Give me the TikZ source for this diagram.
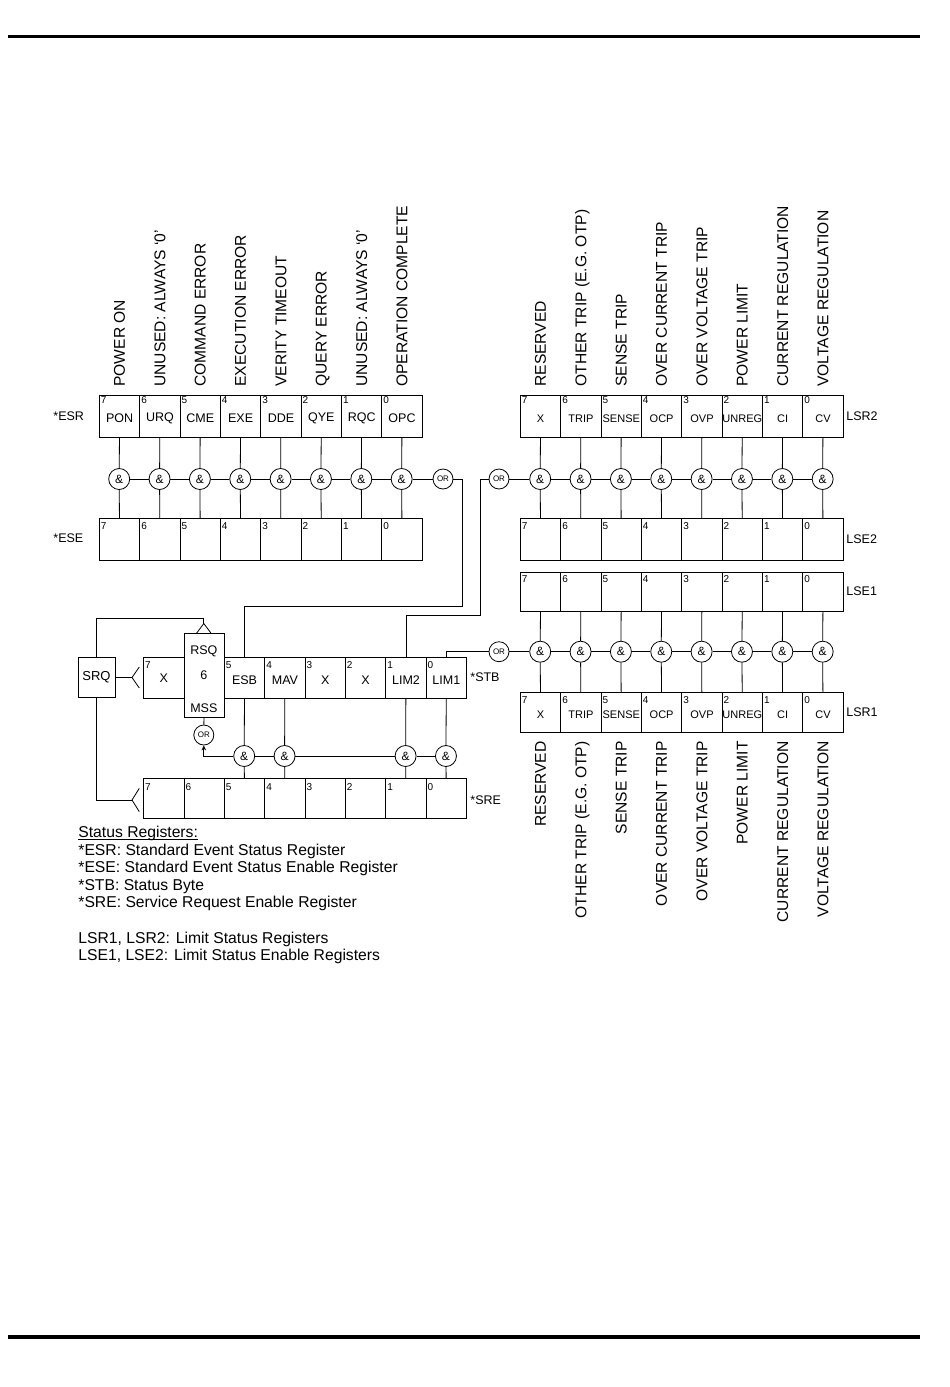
\documentclass[tikz,border=0pt]{standalone}
\usepackage{fontspec}
\setmainfont{Liberation Sans}
\usetikzlibrary{arrows.meta}
\begin{document}
\begin{tikzpicture}[x=1pt,y=-1pt,line width=0.8pt,
  cell/.style={draw,minimum width=40.35pt,inner sep=0pt,anchor=north west},
  bitnum/.style={font=\fontsize{10}{12}\selectfont,inner sep=0pt,text height=7.3pt,text depth=0pt,anchor=north west},
  celltxt/.style={font=\fontsize{12.5}{14}\selectfont,inner sep=0pt},
  lsrtxt/.style={font=\fontsize{11}{13}\selectfont,inner sep=0pt},
  gate/.style={draw,circle,minimum size=21pt,inner sep=0pt,font=\fontsize{12}{14}\selectfont},
  orgate/.style={draw,circle,minimum size=20pt,inner sep=0pt,font=\fontsize{8}{9}\selectfont},
  vlabup/.style={rotate=90,inner sep=0pt,anchor=base west,font=\fontsize{15.6}{17}\selectfont},
  vlabdn/.style={rotate=90,inner sep=0pt,anchor=base east,font=\fontsize{15.6}{17}\selectfont},
  reglab/.style={font=\fontsize{12.5}{14}\selectfont,inner sep=0pt,anchor=west},
  legend/.style={font=\fontsize{15.7}{17}\selectfont,inner sep=0pt,anchor=base west},
  hrule/.style={line width=3.5pt}]
\useasboundingbox (0,0) rectangle (950,1387);

% page rules
\coordinate (rt1) at (8,36.7); \coordinate (rt2) at (920,36.7);
\coordinate (rb1) at (8,1337); \coordinate (rb2) at (920,1337);
\draw[hrule] (rt1) -- (rt2);
\draw[hrule] (rb1) -- (rb2);

% ---------------- ESR / ESE ----------------
\foreach \t [count=\k from 0] in {PON,URQ,CME,EXE,DDE,QYE,RQC,OPC}{
  \pgfmathtruncatemacro\b{7-\k}
  \node[cell,minimum height=42pt] (esr\b) at ({99+\k*40.35},395) {};
  \node[bitnum] (esrn\b) at ([xshift=1.5pt,yshift=-1pt]esr\b.north west) {\b};
  \node[celltxt] (esrt\b) at ([yshift=-2pt]esr\b.center) {\t};
  \node[gate] (ge\b) at ({119.2+\k*40.35},479) {\&};
  \node[cell,minimum height=42pt] (ese\b) at ({99+\k*40.35},518.3) {};
  \node[bitnum] (esen\b) at ([xshift=1.5pt,yshift=-3pt]ese\b.north west) {\b};
}
\foreach \t [count=\k from 0] in {POWER ON,UNUSED: ALWAYS ‘0’,COMMAND ERROR,EXECUTION ERROR,VERITY TIMEOUT,QUERY ERROR,UNUSED: ALWAYS ‘0’,OPERATION COMPLETE}{
  \node[vlabup] (esrl\k) at ({124.9+\k*40.35},387) {\t};
}
\foreach \b in {0,...,7}{
  \draw (esr\b) -- (ge\b);
  \draw (ge\b) -- (ese\b);
}
\foreach \b in {1,...,7}{
  \pgfmathtruncatemacro\c{\b-1}
  \draw (ge\b) -- (ge\c);
}
\node[orgate] (orE) at (443,479) {OR};
\draw (ge0) -- (orE);
\node[reglab] (lbesr) at (53,416.5) {*ESR};
\node[reglab] (lbese) at (53,538.5) {*ESE};

% ---------------- LSR2 / LSE2 / LSE1 / LSR1 ----------------
\foreach \t [count=\k from 0] in {X,TRIP,SENSE,OCP,OVP,UNREG,CI,CV}{
  \pgfmathtruncatemacro\b{7-\k}
  \node[cell,minimum height=42pt] (lsrb\b) at ({520+\k*40.35},395) {};
  \node[bitnum] (lsrbn\b) at ([xshift=1.5pt,yshift=-1pt]lsrb\b.north west) {\b};
  \node[lsrtxt] (lsrbt\b) at ([yshift=-2pt]lsrb\b.center) {\t};
  \node[gate] (gl2\b) at ({540.2+\k*40.35},479) {\&};
  \node[cell,minimum height=42pt] (lseb\b) at ({520+\k*40.35},518.3) {};
  \node[bitnum] (lsebn\b) at ([xshift=1.5pt,yshift=-3pt]lseb\b.north west) {\b};
  \node[cell,minimum height=39.5pt] (lsea\b) at ({520+\k*40.35},571.7) {};
  \node[bitnum] (lsean\b) at ([xshift=1.5pt,yshift=-3pt]lsea\b.north west) {\b};
  \node[gate] (gl1\b) at ({540.2+\k*40.35},651.7) {\&};
  \node[cell,minimum height=39.5pt] (lsra\b) at ({520+\k*40.35},692.3) {};
  \node[bitnum] (lsran\b) at ([xshift=1.5pt,yshift=-3pt]lsra\b.north west) {\b};
  \node[lsrtxt] (lsrat\b) at ([yshift=-2pt]lsra\b.center) {\t};
}
\foreach \t [count=\k from 0] in {RESERVED,OTHER TRIP (E.G. OTP),SENSE TRIP,OVER CURRENT TRIP,OVER VOLTAGE TRIP,POWER LIMIT,CURRENT REGULATION,VOLTAGE REGULATION}{
  \node[vlabup] (lsrbl\k) at ({545.9+\k*40.35},387) {\t};
  \node[vlabdn] (lsral\k) at ({545.9+\k*40.35},741) {\t};
}
\foreach \b in {0,...,7}{
  \draw (lsrb\b) -- (gl2\b);
  \draw (gl2\b) -- (lseb\b);
  \draw (lsea\b) -- (gl1\b);
  \draw (gl1\b) -- (lsra\b);
}
\foreach \b in {1,...,7}{
  \pgfmathtruncatemacro\c{\b-1}
  \draw (gl2\b) -- (gl2\c);
  \draw (gl1\b) -- (gl1\c);
}
\node[orgate] (orL2) at (499,479) {OR};
\node[orgate] (orL1) at (499,651.7) {OR};
\draw (orL2) -- (gl27);
\draw (orL1) -- (gl17);
\node[reglab] (lblsr2) at (846,416.5) {LSR2};
\node[reglab] (lblse2) at (846,539) {LSE2};
\node[reglab] (lblse1) at (846,591.5) {LSE1};
\node[reglab] (lblsr1) at (846,712.5) {LSR1};

% ---------------- STB ----------------
\node[cell,minimum height=40.4pt] (stb7) at (143.3,657.3) {};
\node[bitnum] (stbn7) at ([xshift=1.5pt,yshift=-3pt]stb7.north west) {7};
\node[celltxt] (stbt7) at (stb7.center) {X};
\foreach \t/\b/\k in {ESB/5/2,MAV/4/3,X/3/4,X/2/5,LIM2/1/6,LIM1/0/7}{
  \node[cell,minimum height=40.4pt] (stb\b) at ({143.3+\k*40.35},657.3) {};
  \node[bitnum] (stbn\b) at ([xshift=1.5pt,yshift=-3pt]stb\b.north west) {\b};
  \node[celltxt] (stbt\b) at ([yshift=-2pt]stb\b.center) {\t};
}
\node[cell,minimum height=83.4pt] (stb6) at (183.65,633.3) {};
\node[celltxt] (rsq) at (203.8,651) {RSQ};
\node[celltxt] (stbt6) at (203.8,675) {6};
\node[celltxt] (mss) at (203.8,708) {MSS};
\node[reglab] (lbstb) at (470,677.5) {*STB};

% ---------------- SRE ----------------
\foreach \k in {0,...,7}{
  \pgfmathtruncatemacro\b{7-\k}
  \node[cell,minimum height=40pt] (sre\b) at ({143.3+\k*40.35},778.3) {};
  \node[bitnum] (sren\b) at ([xshift=1.5pt,yshift=-4pt]sre\b.north west) {\b};
}
\node[reglab] (lbsre) at (470,800) {*SRE};

\foreach \b/\k in {5/2,4/3,1/6,0/7}{
  \node[gate] (gs\b) at ({163.5+\k*40.35},756) {\&};
  \draw (stb\b) -- (gs\b);
  \draw (gs\b) -- (sre\b);
}
\node[orgate] (orM) at (203.8,735) {OR};
\draw (stb6) -- (orM);
\draw (gs0) -- (gs1);
\draw (gs1) -- (gs4);
\draw (gs4) -- (gs5);
\draw[-{Stealth[length=5pt,width=4.5pt]}] (gs5.west) -| (orM.south);

% connections into STB
\coordinate (jE) at (462,606);
\draw (orE.east) -| (jE) -| (stb5.north);
\coordinate (jL) at (480,615);
\draw (orL2.west) -| (jL) -| (stb1.north);
\draw (orL1.west) -| (stb0.north);

% ---------------- SRQ ----------------
\node[draw,minimum width=37pt,minimum height=40.4pt,inner sep=0pt,font=\fontsize{13}{15}\selectfont] (srq) at (96.5,677.5) {SRQ};
\coordinate (fkA) at (132,677.5);
\draw (srq.east) -- (fkA);
\draw ([shift={(7.3,-10.5)}]fkA) -- (fkA) -- ([shift={(7.3,10.5)}]fkA);
\coordinate (jS) at (203.8,618);
\coordinate (fkB) at (203.8,623.5);
\draw (srq.north) |- (jS) -- (fkB);
\draw ([shift={(-7.3,9.8)}]fkB) -- (fkB) -- ([shift={(7.3,9.8)}]fkB);
\coordinate (fkC) at (132,800);
\draw (srq.south) |- (fkC);
\draw ([shift={(7.3,-11.7)}]fkC) -- (fkC) -- ([shift={(7.3,11.7)}]fkC);

% ---------------- legend ----------------
\node[legend] (lg0) at (78,837.3) {Status Registers:};
\draw[line width=0.7pt] ([yshift=-2.2pt]lg0.base west) -- ([yshift=-2.2pt]lg0.base east);
\node[legend] (lg1) at (78,855) {*ESR: Standard Event Status Register};
\node[legend] (lg2) at (78,872.5) {*ESE: Standard Event Status Enable Register};
\node[legend] (lg3) at (78,890) {*STB: Status Byte};
\node[legend] (lg4) at (78,907.5) {*SRE: Service Request Enable Register};
\node[legend] (lg5) at (78,943) {LSR1, LSR2: Limit Status Registers};
\node[legend] (lg6) at (78,960.5) {LSE1, LSE2: Limit Status Enable Registers};
\end{tikzpicture}
\end{document}
